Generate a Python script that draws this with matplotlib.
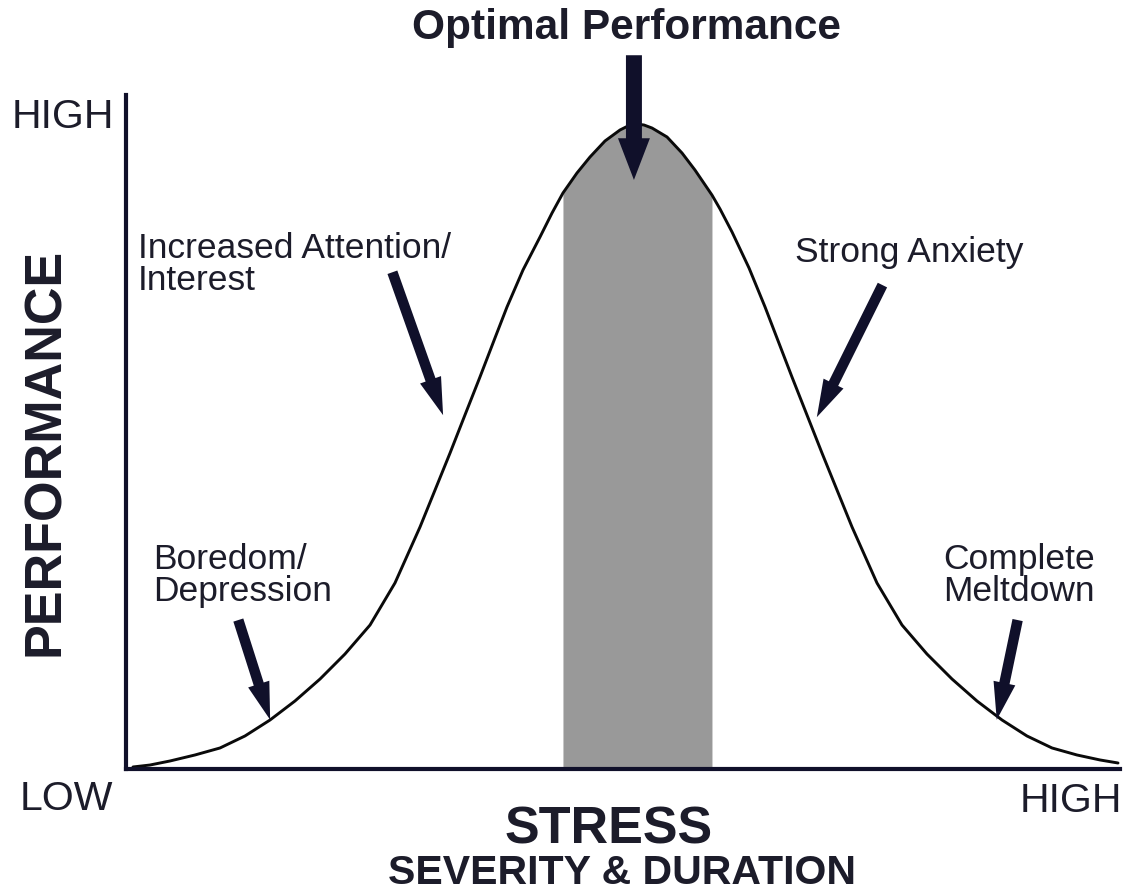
import matplotlib.pyplot as plt
import numpy as np

plt.rcParams['font.family'] = ['Liberation Sans', 'DejaVu Sans']

## curve (stress 0-100, performance 0-100)
stress = [0.70, 2.41, 4.43, 6.94, 9.46, 11.97, 14.49, 17.00, 19.52, 22.03,
          24.55, 27.06, 29.58, 31.09, 32.60, 34.10, 35.61, 37.12, 38.33, 39.94,
          41.65, 42.86, 43.96, 45.37, 46.68, 48.19, 49.70, 50.50, 51.31,
          52.11, 52.92, 54.43, 55.94, 57.24, 58.95, 59.76, 60.97, 62.68, 64.29,
          65.49, 67.00, 68.51, 70.02, 71.53, 73.04, 75.55, 78.07, 80.58, 83.10,
          85.61, 88.13, 90.64, 93.16, 95.67, 97.99, 99.80]
performance = [0.30, 0.59, 1.19, 2.08, 3.12, 4.90, 7.27, 10.09, 13.35, 17.06,
               21.36, 27.60, 35.91, 41.39, 46.88, 52.52, 58.16, 63.95, 68.55, 74.04,
               78.93, 82.49, 85.46, 88.43, 90.80, 93.18, 94.81, 95.40, 95.70,
               95.55, 95.10, 93.77, 91.39, 88.87, 85.16, 83.09, 79.67, 74.33, 68.55,
               63.95, 58.16, 52.52, 46.88, 41.39, 35.91, 27.60, 21.36, 17.06, 13.35,
               10.09, 7.27, 4.90, 3.12, 2.08, 1.34, 0.89]

# optimal zone (shaded)
zone = [43.96, 58.95]

# arrows: label -> (tail, tip) in data units
arrows = {
    'optimal': ((51.1, 105.9), (51.1, 87.4)),
    'attention': ((26.8, 73.7), (31.9, 52.5)),
    'anxiety': ((76.1, 71.8), (69.5, 52.2)),
    'boredom': ((11.3, 22.1), (14.5, 7.3)),
    'meltdown': ((89.7, 22.1), (87.6, 7.3)),
}

W, H = 1128, 891
navy = '#10102a'
txt = '#1c1c2a'


def fp(x, y):
    # pixel -> figure fraction
    return x / W, 1 - y / H


fig = plt.figure(figsize=(W / 100, H / 100), dpi=100)
ax = fig.add_axes([126 / W, 1 - 769 / H, (1120 - 126) / W, (769 - 95) / H])
ax.set_xlim(0, 100)
ax.set_ylim(0, 100)
ax.set_xticks([])
ax.set_yticks([])
for s in ['top', 'right']:
    ax.spines[s].set_visible(False)
for s in ['left', 'bottom']:
    ax.spines[s].set_linewidth(3)
    ax.spines[s].set_color(navy)

x = np.array(stress)
y = np.array(performance)
ax.fill_between(x, 0, y, where=(x >= zone[0]) & (x <= zone[1]),
                color='#999999', linewidth=0, zorder=1)
ax.plot(x, y, color='#0a0a0a', lw=2.1, zorder=2, clip_on=False,
        solid_capstyle='round', solid_joinstyle='round')

## arrows
for k, (tail, tip) in arrows.items():
    if k == 'optimal':
        style = 'simple,head_length=30,head_width=23,tail_width=11.5'
    else:
        style = 'simple,head_length=27,head_width=16,tail_width=7.5'
    ax.annotate('', xy=tip, xytext=tail, annotation_clip=False,
                arrowprops=dict(arrowstyle=style, mutation_scale=1,
                                color=navy, shrinkA=0, shrinkB=0, lw=0),
                zorder=3)

## texts
fig.text(*fp(627, 28), 'Optimal Performance', fontsize=30.5, fontweight='bold',
         ha='center', va='center', color=txt)
fig.text(*fp(12, 128), 'HIGH', fontsize=29.5, ha='left', va='baseline', color=txt)
fig.text(*fp(20, 810), 'LOW', fontsize=29.5, ha='left', va='baseline', color=txt)
fig.text(*fp(1122, 812), 'HIGH', fontsize=29.5, ha='right', va='baseline', color=txt)
fig.text(*fp(46, 452), 'PERFORMANCE', fontsize=37.5, fontweight='bold', rotation=90,
         ha='center', va='center', color=txt)
fig.text(*fp(609, 843), 'STRESS', fontsize=37.5, fontweight='bold',
         ha='center', va='baseline', color=txt)
fig.text(*fp(622, 884), 'SEVERITY & DURATION', fontsize=29.5, fontweight='bold',
         ha='center', va='baseline', color=txt)

fig.text(*fp(138, 232), 'Increased Attention/\nInterest', fontsize=25.5,
         ha='left', va='top', color=txt, linespacing=0.95)
fig.text(*fp(795, 236), 'Strong Anxiety', fontsize=25.5,
         ha='left', va='top', color=txt)
fig.text(*fp(153, 543), 'Boredom/\nDepression', fontsize=25.5,
         ha='left', va='top', color=txt, linespacing=0.95)
fig.text(*fp(1019, 543), 'Complete\nMeltdown', fontsize=25.5,
         ha='center', va='top', color=txt, linespacing=0.95, multialignment='center')

fig.savefig('out.png', dpi=100, facecolor='white')
